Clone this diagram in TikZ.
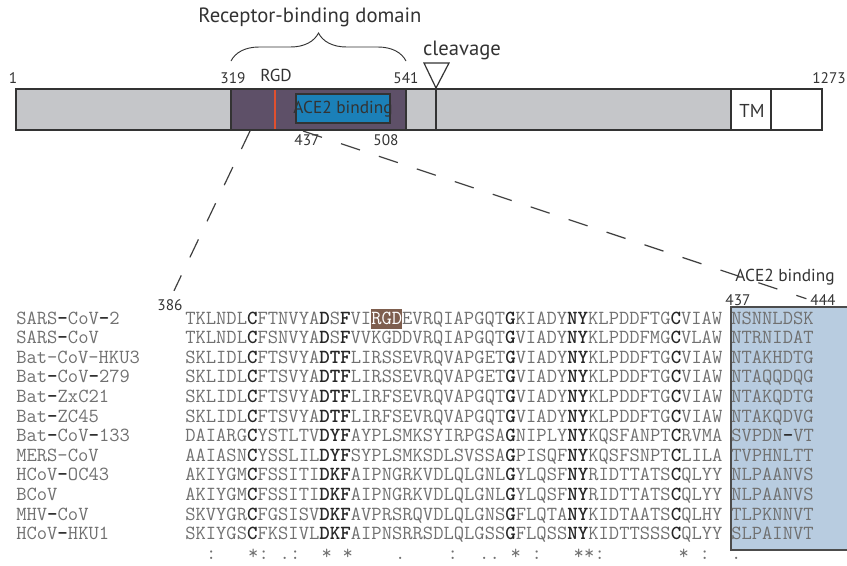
\documentclass[tikz,border=0pt]{standalone}
\usepackage{fontspec}
\setsansfont{PT Sans}
\usetikzlibrary{decorations.pathreplacing}
\definecolor{bargray}{HTML}{C5C6C9}
\definecolor{rbdpurple}{HTML}{5E5068}
\definecolor{aceblue}{HTML}{1B80B8}
\definecolor{boxblue}{HTML}{B8CCE0}
\definecolor{rgdbrown}{HTML}{7E5E4E}
\definecolor{rgdred}{HTML}{E0502E}
\definecolor{seqgray}{HTML}{707070}
\definecolor{labeldark}{HTML}{333333}
\tikzstyle{seg}=[draw=black!80, line width=0.9pt]
\tikzstyle{lbl}=[inner sep=0pt, text=labeldark, font=\sffamily\fontsize{11.5}{13}\selectfont]
\tikzstyle{midlbl}=[lbl, font=\sffamily\fontsize{13}{15}\selectfont]
\tikzstyle{biglbl}=[lbl, font=\sffamily\fontsize{15.5}{17}\selectfont]
\tikzstyle{seqtext}=[anchor=base west, inner sep=0pt, text=seqgray, font=\ttfamily\fontsize{15}{18}\selectfont]
\tikzstyle{consmark}=[anchor=base, inner sep=0pt, text=seqgray, font=\ttfamily\fontsize{15}{18}\selectfont]
\tikzstyle{zoomline}=[draw=black!75, line width=0.9pt, dash pattern=on 15pt off 15pt]
\newcommand{\cons}[1]{{\bfseries\color{black!85}#1}}
\newcommand{\rgdbox}{{\fboxsep=0pt\colorbox{rgdbrown}{\rule[-3.75pt]{0pt}{15pt}\color{white}RGD}}}

\begin{document}
\begin{tikzpicture}[x=0.75pt, y=-0.75pt]
	\useasboundingbox (0,0) rectangle (847,565);

	% spike protein bar
	\draw[seg, fill=bargray] (16,89) rectangle (731,130);
	\draw[seg, fill=rbdpurple] (231,89) rectangle (406,130);
	\draw[rgdred, line width=0.8pt] (275,89.6) -- (275,129.4);
	\draw[seg, fill=aceblue] (296,94) rectangle (390,123);
	\draw[seg] (436,89) -- (436,130);
	\draw[seg, fill=white] (731,89) rectangle (771,130);
	\draw[seg, line width=1.6pt, fill=white] (771,89) rectangle (822,130);
	\draw[seg, fill=white] (424,63) -- (449,63) -- (436,88) -- cycle;
	\draw[labeldark, line width=0.7pt, decorate, decoration={brace, amplitude=21pt}] (231,61) -- (406,61);

	\path (310,17) node[biglbl] (rbd) {Receptor-binding domain}
	      (462,50) node[biglbl] (clv) {cleavage}
	      (13,78) node[lbl] (p1) {1}
	      (233,78) node[lbl] (p319) {319}
	      (276,75) node[midlbl] (prgd) {RGD}
	      (406,78) node[lbl] (p541) {541}
	      (829,78) node[lbl] (p1273) {1273}
	      (343,109) node[midlbl] (ace) {ACE2 binding}
	      (752,111) node[midlbl, font=\sffamily\fontsize{14}{16}\selectfont] (tm) {TM}
	      (307,140) node[lbl] (p437) {437}
	      (386,140) node[lbl] (p508) {508};

	% alignment
	\fill[boxblue] (731,307) rectangle (847,550);
	\draw[black!70, line width=1.1pt] (847,307) -- (731,307) -- (731,550) -- (847,550);

	\path (170,305) node[lbl] (a386) {386}
	      (738,300) node[lbl] (a437) {437}
	      (823,300) node[lbl] (a444) {444}
	      (785,277) node[midlbl] (aace) {ACE2 binding};

	\coordinate (cut386) at (250,131);
	\coordinate (cut437) at (303,131);
	\draw[zoomline, shorten >=7pt] (cut386) -- (a386.north);
	\draw[zoomline, shorten >=3pt] (cut437) -- (a444.west);

	\node[seqtext] (n1) at (16,324) {SARS\cons{-}CoV\cons{-}2};
	\node[seqtext] (s1) at (185,324) {TKLNDL\cons{C}FTNVYA\cons{D}S\cons{F}VI\rgdbox EVRQIAPGQT\cons{G}KIADY\cons{NY}KLPDDFTG\cons{C}VIAW};
	\node[seqtext] (b1) at (731,324) {NSNNLDSK};

	\node[seqtext] (n2) at (16,343.6) {SARS\cons{-}CoV};
	\node[seqtext] (s2) at (185,343.6) {TKLNDL\cons{C}FSNVYA\cons{D}S\cons{F}VVKGDDVRQIAPGQT\cons{G}VIADY\cons{NY}KLPDDFMG\cons{C}VLAW};
	\node[seqtext] (b2) at (731,343.6) {NTRNIDAT};

	\node[seqtext] (n3) at (16,363.2) {Bat-CoV-HKU3};
	\node[seqtext] (s3) at (185,363.2) {SKLIDL\cons{C}FTSVYA\cons{DTF}LIRSSEVRQVAPGET\cons{G}VIADY\cons{NY}KLPDDFTG\cons{C}VIAW};
	\node[seqtext] (b3) at (731,363.2) {NTAKHDTG};

	\node[seqtext] (n4) at (16,382.8) {Bat\cons{-}CoV\cons{-}279};
	\node[seqtext] (s4) at (185,382.8) {SKLIDL\cons{C}FTSVYA\cons{DTF}LIRSSEVRQVAPGET\cons{G}VIADY\cons{NY}KLPDDFTG\cons{C}VIAW};
	\node[seqtext] (b4) at (731,382.8) {NTAQQDQG};

	\node[seqtext] (n5) at (16,402.4) {Bat\cons{-}ZxC21};
	\node[seqtext] (s5) at (185,402.4) {SKLIDL\cons{C}FTSVYA\cons{DTF}LIRFSEVRQVAPGQT\cons{G}VIADY\cons{NY}KLPDDFTG\cons{C}VIAW};
	\node[seqtext] (b5) at (731,402.4) {NTAKQDTG};

	\node[seqtext] (n6) at (16,422) {Bat\cons{-}ZC45};
	\node[seqtext] (s6) at (185,422) {SKLIDL\cons{C}FTSVYA\cons{DTF}LIRFSEVRQVAPGQT\cons{G}VIADY\cons{NY}KLPDDFTG\cons{C}VIAW};
	\node[seqtext] (b6) at (731,422) {NTAKQDVG};

	\node[seqtext] (n7) at (16,441.6) {Bat\cons{-}CoV\cons{-}133};
	\node[seqtext] (s7) at (185,441.6) {DAIARG\cons{C}YSTLTV\cons{DYF}AYPLSMKSYIRPGSA\cons{G}NIPLY\cons{NY}KQSFANPT\cons{C}RVMA};
	\node[seqtext] (b7) at (731,441.6) {SVPDN\cons{-}VT};

	\node[seqtext] (n8) at (16,461.2) {MERS-CoV};
	\node[seqtext] (s8) at (185,461.2) {AAIASN\cons{C}YSSLIL\cons{DYF}SYPLSMKSDLSVSSA\cons{G}PISQF\cons{NY}KQSFSNPT\cons{C}LILA};
	\node[seqtext] (b8) at (731,461.2) {TVPHNLTT};

	\node[seqtext] (n9) at (16,480.8) {HCoV\cons{-}OC43};
	\node[seqtext] (s9) at (185,480.8) {AKIYGM\cons{C}FSSITI\cons{DKF}AIPNGRKVDLQLGNL\cons{G}YLQSF\cons{NY}RIDTTATS\cons{C}QLYY};
	\node[seqtext] (b9) at (731,480.8) {NLPAANVS};

	\node[seqtext] (n10) at (16,500.4) {BCoV};
	\node[seqtext] (s10) at (185,500.4) {AKIYGM\cons{C}FSSITI\cons{DKF}AIPNGRKVDLQLGNL\cons{G}YLQSF\cons{NY}RIDTTATS\cons{C}QLYY};
	\node[seqtext] (b10) at (731,500.4) {NLPAANVS};

	\node[seqtext] (n11) at (16,520) {MHV\cons{-}CoV};
	\node[seqtext] (s11) at (185,520) {SKVYGR\cons{C}FGSISV\cons{DKF}AVPRSRQVDLQLGNS\cons{G}FLQTA\cons{NY}KIDTAATS\cons{C}QLHY};
	\node[seqtext] (b11) at (731,520) {TLPKNNVT};

	\node[seqtext] (n12) at (16,539.6) {HCoV\cons{-}HKU1};
	\node[seqtext] (s12) at (185,539.6) {SKIYGS\cons{C}FKSIVL\cons{DKF}AIPNSRRSDLQLGSS\cons{G}FLQSS\cons{NY}KIDTTSSS\cons{C}QLYY};
	\node[seqtext] (b12) at (731,539.6) {SLPAINVT};

	\foreach \c/\m in {3/:,7/*,8/:,10/.,11/:,14/*,16/*,21/.,26/:,29/.,30/.,32/*,34/:,38/*,39/*,40/:,48/*,50/:,53/.}
		\node[consmark] (k\c) at ({185+(\c-0.5)*10.5},559.2) {\m};

\end{tikzpicture}
\end{document}
